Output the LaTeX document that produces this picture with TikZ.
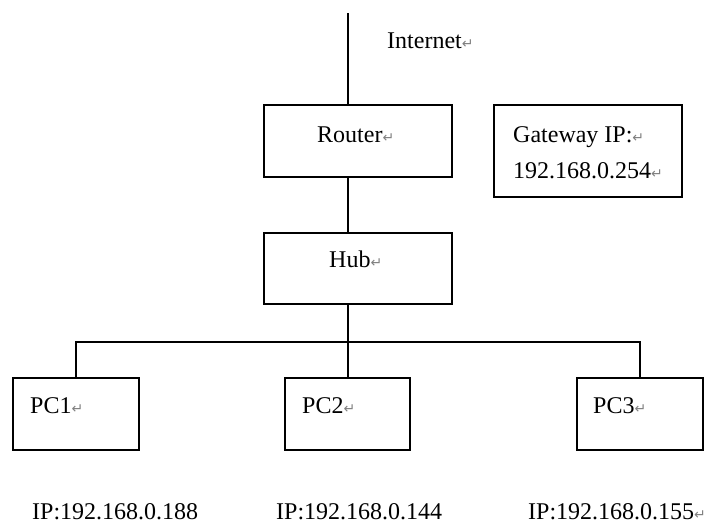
\documentclass[tikz,border=0pt]{standalone}
\usepackage{fontspec}
\setmainfont{Liberation Serif}
\newfontfamily\symfont{DejaVu Sans}
\newcommand\retmark{{\symfont\color{gray}\fontsize{14}{14}\selectfont ↵}}
\begin{document}
\begin{tikzpicture}[x=1pt,y=-1pt,
  box/.style={draw, line width=1.1pt, inner sep=0pt},
  wire/.style={line width=1.1pt},
  lbl/.style={anchor=base west, inner sep=0pt, font=\fontsize{24}{24}\selectfont}]
\useasboundingbox (0,0) rectangle (713,523);

% devices
\node[box, minimum width=188pt, minimum height=72pt] (router) at (358,141) {};
\node[box, minimum width=188pt, minimum height=71pt] (hub) at (358,268.5) {};
\node[box, minimum width=188pt, minimum height=92pt] (gw) at (588,151) {};
\node[box, minimum width=126pt, minimum height=72pt] (pc1) at (76,414) {};
\node[box, minimum width=125pt, minimum height=72pt] (pc2) at (347.5,414) {};
\node[box, minimum width=126pt, minimum height=72pt] (pc3) at (640,414) {};

% trunk line and bus
\coordinate (up) at (348,13);
\coordinate (bus) at (348,342);
\draw[wire] (up) -- (up |- router.north);
\draw[wire] (router.south -| up) -- (hub.north -| up);
\draw[wire] (hub.south -| up) -- (pc2.north -| up);
\draw[wire] (pc1.north) -- (pc1.north |- bus) -- (pc3.north |- bus) -- (pc3.north);

% labels
\node[lbl] (tinet) at (387,48) {Internet\retmark};
\node[lbl] (trouter) at (317,142) {Router\retmark};
\node[lbl] (thub) at (329,267) {Hub\retmark};
\node[lbl] (tgw1) at (513,142) {Gateway IP:\retmark};
\node[lbl] (tgw2) at (513,178) {192.168.0.254\retmark};
\node[lbl] (tpc1) at (30,413) {PC1\retmark};
\node[lbl] (tpc2) at (302,413) {PC2\retmark};
\node[lbl] (tpc3) at (593,413) {PC3\retmark};
\node[lbl] (ip1) at (32,519) {IP:192.168.0.188};
\node[lbl] (ip2) at (276,519) {IP:192.168.0.144};
\node[lbl] (ip3) at (528,519) {IP:192.168.0.155\retmark};
\end{tikzpicture}
\end{document}
